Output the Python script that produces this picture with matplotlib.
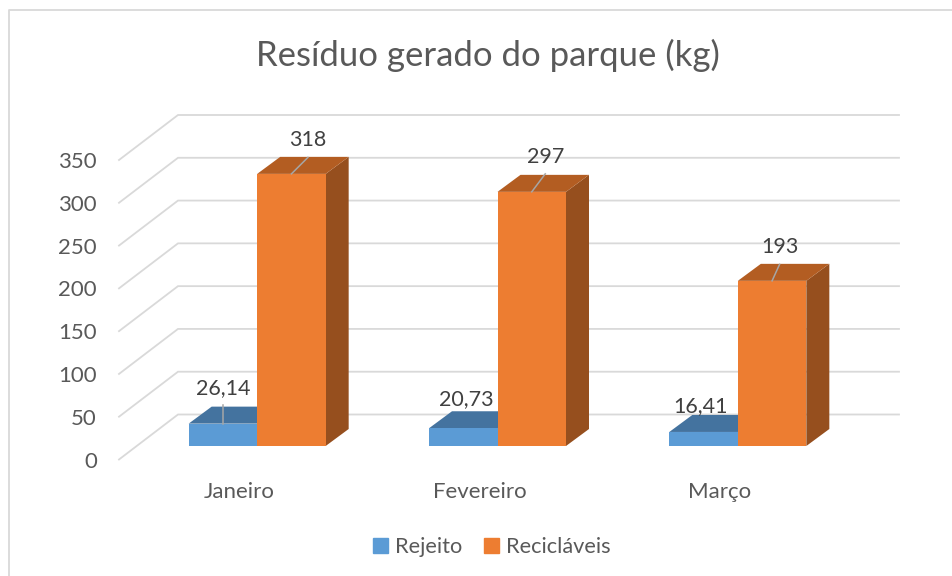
import matplotlib
matplotlib.use('Agg')
import matplotlib.pyplot as plt
from matplotlib.lines import Line2D
from matplotlib.patches import Patch, Polygon

plt.rcParams['font.family'] = ['Lato', 'DejaVu Sans']

# dados
meses = ['Janeiro', 'Fevereiro', 'Março']
rejeito = [26.14, 20.73, 16.41]
reciclaveis = [318, 297, 193]
rotulos_rejeito = ['26,14', '20,73', '16,41']
rotulos_reciclaveis = ['318', '297', '193']
yticks = [0, 50, 100, 150, 200, 250, 300, 350]

W, H = 952, 576
fig = plt.figure(figsize=(W / 100, H / 100), dpi=100)
# plano frontal do grafico "3D"
ax = fig.add_axes([119 / W, 1 - 459.5 / H, 721 / W, 299.5 / H])
ax.set_xlim(-0.5, 2.5)
ax.set_ylim(0, 350)

# pixels -> unidades de dados
px_x = 3 / 721
px_y = 350 / 299.5


def caixa(x0, x1, h, frente, topo, lado):
    # plano das barras fica um pouco atras do plano frontal
    ox, oy = 18 * px_x, 13.5 * px_y
    dx, dy = 23 * px_x, 17 * px_y
    x0, x1 = x0 + ox, x1 + ox
    ax.add_patch(Polygon([(x1, oy), (x1 + dx, oy + dy), (x1 + dx, h + oy + dy), (x1, h + oy)],
                         fc=lado, ec='none', clip_on=False, zorder=3))
    ax.add_patch(Polygon([(x0, h + oy), (x1, h + oy), (x1 + dx, h + oy + dy), (x0 + dx, h + oy + dy)],
                         fc=topo, ec='none', clip_on=False, zorder=3))
    ax.bar(x0, h, width=x1 - x0, bottom=oy, align='edge', color=frente, clip_on=False, zorder=3)


# grade: frente -> fundo -> direita
gx, gy = 59 * px_x, 45 * px_y
for t in yticks:
    ax.plot([-0.5, -0.5 + gx, 2.5 + gx], [t, t + gy, t + gy], color='#D9D9D9', lw=1.3,
            clip_on=False, zorder=1, solid_joinstyle='miter')

largura = 68.5 * px_x
for i in range(len(meses)):
    caixa(i - largura, i, rejeito[i], '#5B9BD5', '#44739F', '#3F6E99')
for i in range(len(meses)):
    caixa(i, i + largura, reciclaveis[i], '#ED7D31', '#B35D22', '#964F1E')

# rotulos com linha de chamada
offs_rej = [(0, 35.5), (3, 29), (-3, 26)]
offs_rec = [(16.5, 33.5), (13.5, 35), (7.5, 33.5)]
for i in range(len(meses)):
    bx = i + 18 * px_x
    oy = 13.5 * px_y
    xr, yr = bx - largura / 2, rejeito[i] + oy
    lx, ly = offs_rej[i]
    ax.text(xr + lx * px_x, yr + ly * px_y, rotulos_rejeito[i], ha='center', va='center',
            fontsize=15.5, color='#404040', zorder=5)
    if i == 0:
        ax.plot([xr, xr + lx * px_x], [yr, yr + (ly - 17) * px_y], color='#A6A6A6', lw=1.1,
                clip_on=False, zorder=4)

    xc, yc = bx + largura / 2, reciclaveis[i] + oy
    lx, ly = offs_rec[i]
    ax.text(xc + lx * px_x, yc + ly * px_y, rotulos_reciclaveis[i], ha='center', va='center',
            fontsize=15.5, color='#404040', zorder=5)
    ax.plot([xc, xc + lx * px_x], [yc, yc + (ly - 17) * px_y], color='#A6A6A6', lw=1.1,
            clip_on=False, zorder=4)

ax.set_xticks(range(len(meses)))
ax.set_xticklabels(meses)
ax.set_yticks(yticks)
ax.tick_params(axis='both', length=0, labelsize=16, labelcolor='#595959')
ax.tick_params(axis='x', pad=16)
ax.tick_params(axis='y', pad=16)
for s in ax.spines.values():
    s.set_visible(False)
ax.patch.set_alpha(0)

fig.text(488 / W, 1 - 55 / H, 'Resíduo gerado do parque (kg)', ha='center', va='center',
         fontsize=25, color='#595959')

handles = [Patch(color='#5B9BD5', label='Rejeito'), Patch(color='#ED7D31', label='Recicláveis')]
fig.legend(handles=handles, loc='center', bbox_to_anchor=(492 / W, 1 - 547 / H), ncol=2, frameon=False,
           fontsize=15.7, labelcolor='#595959', handlelength=0.66, handleheight=0.66,
           handletextpad=0.35, columnspacing=1.0)

# borda da area do grafico (so esquerda e topo aparecem)
fig.add_artist(Line2D([8.5 / W, 8.5 / W, 1], [0, 1 - 9.5 / H, 1 - 9.5 / H], color='#D9D9D9', lw=1.3))

fig.savefig('out.png', dpi=100)
